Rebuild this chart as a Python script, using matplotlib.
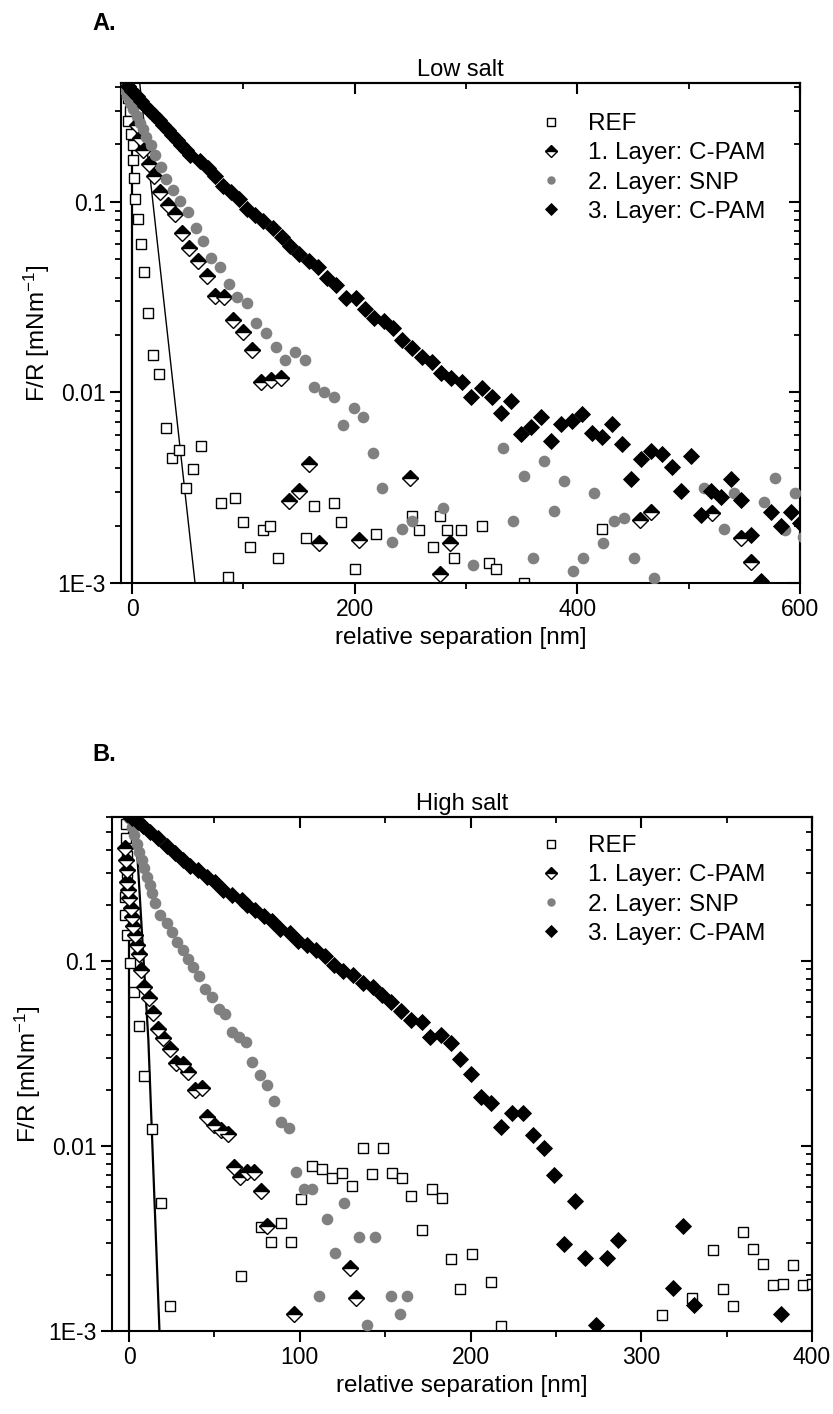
import numpy as np
import matplotlib
matplotlib.use('Agg')
import matplotlib.pyplot as plt
from matplotlib.ticker import MultipleLocator, LogLocator, FixedFormatter, FixedLocator, NullFormatter

plt.rcParams['font.family'] = ['Liberation Sans', 'DejaVu Sans']
plt.rcParams['mathtext.default'] = 'regular'

# ---------------- Panel A: low salt ----------------
a_ref_x = [-4, -2, -3.3, -0.9, 0.6, 1.2, 1.5, 3.0, 5.1, 7.8, 11.1, 14.6, 19.1, 24.5, 30.2, 36.2,
           42.4, 48.4, 55, 61.6, 80.1, 86.4, 92.7, 99.3, 105.6, 117.8, 124, 131, 156, 163,
           181.5, 187.7, 200.6, 219.4, 251.4, 257.7, 270.2, 276.8, 282.8, 289.4, 295.7,
           314.2, 321, 327, 352, 422.4]
a_ref_y = [0.35, 0.30, 0.264, 0.227, 0.198, 0.165, 0.133, 0.103, 0.081, 0.060, 0.043, 0.026,
           0.0157, 0.0125, 0.0065, 0.0045, 0.0050, 0.00316, 0.00396, 0.00526, 0.00262,
           0.00108, 0.0028, 0.00209, 0.00154, 0.0019, 0.00199, 0.00135, 0.00172, 0.00253,
           0.00263, 0.00209, 0.00118, 0.00181, 0.00225, 0.0019, 0.00154, 0.00225, 0.0019,
           0.00135, 0.0019, 0.00199, 0.00127, 0.00118, 0.001, 0.00193]

a_l1_x = [-4, -1, 1.2, 4.2, 7, 9.6, 15.2, 20, 25.1, 32, 38.6, 45.1, 51.4, 58.9, 67, 74.4,
          82.8, 90.9, 99.3, 107.4, 115.7, 124.4, 133.6, 140.8, 149.8, 159, 167.7, 204.2,
          249.3, 276.2, 285.2, 456.5, 466, 520.8, 547, 556]
a_l1_y = [0.40, 0.35, 0.33, 0.254, 0.215, 0.187, 0.158, 0.136, 0.113, 0.0957, 0.0865, 0.069,
          0.0571, 0.0487, 0.041, 0.0321, 0.0318, 0.024, 0.0207, 0.0166, 0.0114, 0.0116,
          0.0119, 0.00269, 0.00304, 0.00421, 0.00162, 0.00168, 0.00355, 0.00111, 0.00162,
          0.00214, 0.00237, 0.00232, 0.00172, 0.00129]

a_l2_x = [-8, -5, -2, 1, 4, 7, 10, 12.8, 17.3, 20.9, 25.7, 30.8, 36.8, 42.8, 50.2, 57.1, 64,
          70.9, 78.9, 87.3, 94.5, 103.1, 110.9, 119.9, 128.9, 137.2, 146.2, 155.2, 163.5,
          172.5, 181.4, 189.5, 199.1, 207.5, 216.4, 224.8, 233.8, 242.8, 251.7, 279.2,
          306.1, 333, 342, 351.6, 359.9, 369.8, 378.7, 387.7, 396.4, 405.4, 414.6, 423.3,
          432.6, 441.5, 450.5, 468.4, 513.9, 531.8, 540.8, 567.7, 577.3, 586.5, 595.2, 603]
a_l2_y = [0.389, 0.359, 0.331, 0.305, 0.282, 0.26, 0.24, 0.220, 0.199, 0.177, 0.152, 0.132,
          0.116, 0.101, 0.0885, 0.0733, 0.062, 0.051, 0.0457, 0.0372, 0.0316, 0.0294,
          0.0231, 0.0205, 0.0174, 0.0148, 0.0163, 0.0148, 0.0107, 0.0101, 0.00944, 0.00675,
          0.00832, 0.00746, 0.0048, 0.00316, 0.00164, 0.00192, 0.00212, 0.00248, 0.00125,
          0.00509, 0.00212, 0.00365, 0.00135, 0.00439, 0.0024, 0.00343, 0.00116, 0.00135,
          0.00296, 0.00163, 0.00212, 0.0022, 0.00135, 0.00106, 0.00316, 0.00192, 0.00298,
          0.00267, 0.00355, 0.0019, 0.00298, 0.00174]

a_l3_x = [-4, 0, 4, 8, 12, 16, 20, 24, 28, 32, 36, 40, 44, 48, 52, 61, 68.4, 74.4, 81.9, 88.8,
          96.2, 102.8, 110.3, 117.8, 126.2, 134.3, 141.7, 150, 159, 167.1, 175.2, 183, 191.9,
          200.9, 209, 217.3, 226, 234.4, 242.8, 251.4, 260.4, 269.3, 277.8, 286.7, 296.6,
          304.7, 314.2, 323.2, 331.6, 340.5, 349.5, 358.5, 367.4, 376.4, 385.4, 394.9,
          403.9, 412.8, 421.8, 430.8, 439.7, 448.2, 457.1, 466.1, 475.6, 484.6, 493.5,
          502.5, 511.5, 520.4, 529.4, 538.4, 547.4, 556.3, 565.3, 574.3, 583.2, 592.2, 600]
a_l3_y = [0.405, 0.381, 0.360, 0.339, 0.319, 0.301, 0.284, 0.267, 0.252, 0.238, 0.224, 0.211,
          0.199, 0.188, 0.177, 0.163, 0.150, 0.136, 0.121, 0.112, 0.103, 0.0916, 0.0855,
          0.0789, 0.0728, 0.065, 0.0587, 0.0531, 0.049, 0.0457, 0.0397, 0.0364, 0.0312,
          0.0312, 0.0274, 0.0245, 0.0238, 0.0217, 0.0189, 0.0171, 0.0154, 0.0145, 0.0127,
          0.0119, 0.0114, 0.00944, 0.0105, 0.00944, 0.00783, 0.00906, 0.00606, 0.00656,
          0.00741, 0.00558, 0.00683, 0.00711, 0.00771, 0.00615, 0.00582, 0.00683, 0.00537,
          0.00352, 0.00446, 0.00495, 0.00475, 0.00408, 0.00304, 0.00466, 0.00228, 0.00304,
          0.00284, 0.00352, 0.00273, 0.00179, 0.00102, 0.00237, 0.00198, 0.00237, 0.00207]

a_zero_x = [0, 0]
a_zero_y = [1e-3, 0.42]
a_fit_x = [6.8, 56.5]
a_fit_y = [0.42, 0.001]

# ---------------- Panel B: high salt ----------------
b_ref_x = [-2, -1.8, -1.5, -1.0, -2.3, -2.3, -1.3, 0.6, 2.9, 6.0, 9.0, 13.7, 18.6, 24.0, 65.5,
           77.2, 83.1, 89, 94.8, 100.9, 107.1, 113, 118.9, 124.7, 130.6, 137.1, 142.3, 148.6,
           154.1, 159.9, 165.4, 171.3, 177.5, 183.4, 188.7, 193.7, 200.6, 212.1, 218, 312,
           329.6, 341.8, 347.6, 353.5, 359.4, 365.2, 371.1, 376.9, 382.8, 388.7, 394.5, 400]
b_ref_y = [0.55, 0.46, 0.37, 0.30, 0.223, 0.177, 0.138, 0.0973, 0.0677, 0.0447, 0.024, 0.0124,
           0.0049, 0.00137, 0.00198, 0.00366, 0.00304, 0.00382, 0.00304, 0.00517, 0.0078,
           0.00748, 0.00674, 0.00718, 0.0061, 0.0098, 0.00706, 0.0098, 0.00718, 0.00674,
           0.00537, 0.00352, 0.00583, 0.00521, 0.00244, 0.00168, 0.0026, 0.00183, 0.00106,
           0.00122, 0.00151, 0.00274, 0.00169, 0.00137, 0.00343, 0.00279, 0.00229, 0.00177,
           0.0018, 0.00227, 0.00177, 0.0018]

b_l1_x = [-2.3, -1.8, -1.3, -1.0, -0.4, 0.2, 1.0, 1.6, 2.2, 3.5, 4.9, 6.0, 6.9, 9.0, 11.7,
          14.3, 17.2, 20.1, 24.0, 27.6, 31.5, 34.8, 38.7, 42.6, 45.6, 49.9, 53.8, 57.7, 61.2,
          65.1, 69, 73.3, 77.2, 80.8, 96.8, 129.2, 133.1]
b_l1_y = [0.406, 0.351, 0.31, 0.268, 0.242, 0.218, 0.193, 0.173, 0.155, 0.138, 0.122, 0.109,
          0.0893, 0.0726, 0.0634, 0.0521, 0.0428, 0.0382, 0.0333, 0.028, 0.0277, 0.0252,
          0.0201, 0.0205, 0.0144, 0.013, 0.0122, 0.0116, 0.00768, 0.00678, 0.00726, 0.0072,
          0.00573, 0.0037, 0.00124, 0.00218, 0.00151]

b_l2_x = [0, 1.5, 3, 4.5, 6, 7.5, 9, 10.5, 12, 13.5, 15.2, 18.2, 22.1, 25, 28, 31.5, 34.8,
          37.7, 41.1, 44.6, 48.5, 52.4, 56.3, 60.2, 64.1, 68.4, 72, 76.4, 80.8, 84.6, 89.1,
          93.8, 97.8, 102.2, 107.1, 111, 116, 120.8, 125.7, 134.9, 139.4, 144.3, 153.7,
          158.4, 162.9]
b_l2_y = [0.59, 0.53, 0.48, 0.43, 0.39, 0.35, 0.32, 0.286, 0.258, 0.232, 0.205, 0.177, 0.160,
          0.144, 0.127, 0.114, 0.1026, 0.093, 0.083, 0.0706, 0.0637, 0.0548, 0.0515, 0.0415,
          0.039, 0.0366, 0.0286, 0.0242, 0.0214, 0.0176, 0.0134, 0.0125, 0.00726, 0.00587,
          0.00587, 0.00155, 0.00402, 0.00263, 0.00494, 0.00323, 0.00108, 0.00323, 0.00155,
          0.00124, 0.00155]

b_l3_x = [-1, 2, 5, 8, 12.3, 17.2, 22.1, 27, 31.8, 35.8, 40.6, 45.6, 50.4, 55.3, 60.2, 66.1,
          69, 73.9, 78.8, 83.7, 88.6, 94, 98.9, 104.2, 109.7, 115, 120.2, 125.3, 131.2,
          136.8, 142.7, 148.2, 153.7, 159.3, 165.2, 171.3, 176.5, 182.8, 188.7, 194.1,
          200.4, 205.9, 211.7, 217.6, 224.5, 230.9, 236.8, 243, 249.1, 254.7, 261, 267.1,
          273.3, 280.2, 286.6, 318.3, 324.7, 331, 381.8]
b_l3_y = [0.62, 0.589, 0.562, 0.537, 0.500, 0.460, 0.419, 0.382, 0.351, 0.327, 0.310, 0.283,
          0.268, 0.242, 0.228, 0.213, 0.200, 0.188, 0.175, 0.164, 0.148, 0.142, 0.129, 0.122,
          0.115, 0.107, 0.0955, 0.0879, 0.0843, 0.076, 0.0723, 0.0653, 0.060, 0.0535,
          0.0477, 0.047, 0.0388, 0.040, 0.0361, 0.0295, 0.0245, 0.0184, 0.017, 0.0126,
          0.0151, 0.0151, 0.0115, 0.00973, 0.00697, 0.00295, 0.00506, 0.00247, 0.00108,
          0.00247, 0.0031, 0.0017, 0.00371, 0.00138, 0.00123]

b_zero_x = [0, 0]
b_zero_y = [1e-3, 0.6]
b_fit_x = [3.5, 11.3, 17.8]
b_fit_y = [0.6, 0.0374, 0.001]

labels = ['REF', '1. Layer: C-PAM', '2. Layer: SNP', '3. Layer: C-PAM']

fig = plt.figure(figsize=(8.33, 14.14), dpi=100)
W, H = 833.0, 1414.0


def make_axes(l, r, t, b):
    return fig.add_axes([l / W, 1 - b / H, (r - l) / W, (b - t) / H])


def draw_panel(ax, ref, l1, l2, l3, zero, fit, fitlw):
    ax.plot(zero[0], zero[1], color='black', lw=1.6, zorder=1)
    ax.plot(fit[0], fit[1], color='black', lw=fitlw, zorder=1)
    ax.plot(ref[0], ref[1], 's', ms=7.5, mfc='white', mec='black', mew=1.0, ls='none',
            label=labels[0], zorder=2)
    ax.plot(l1[0], l1[1], 'D', ms=8.2, fillstyle='top', mfc='black', mfcalt='white',
            mec='black', mew=1.0, ls='none', label=labels[1], zorder=3)
    ax.plot(l2[0], l2[1], 'o', ms=8.4, color='#808080', mec='#808080', mew=0, ls='none',
            label=labels[2], zorder=3)
    ax.plot(l3[0], l3[1], 'D', ms=8.6, color='black', mec='black', mew=0.6, ls='none',
            label=labels[3], zorder=4)
    ax.set_yscale('log')
    for s in ax.spines.values():
        s.set_linewidth(1.5)


def style_axes(ax, xmaj, xmin_, xlabels, xlim, ylim):
    ax.set_xlim(*xlim)
    ax.set_ylim(*ylim)
    ax.xaxis.set_major_locator(FixedLocator(xmaj))
    ax.xaxis.set_major_formatter(FixedFormatter(xlabels))
    ax.xaxis.set_minor_locator(MultipleLocator(xmin_))
    ax.yaxis.set_major_locator(FixedLocator([1e-3, 1e-2, 1e-1]))
    ax.yaxis.set_major_formatter(FixedFormatter(['1E-3', '0.01', '0.1']))
    ax.yaxis.set_minor_locator(LogLocator(base=10, subs=np.arange(2, 10)))
    ax.yaxis.set_minor_formatter(NullFormatter())
    ax.tick_params(which='major', direction='out', length=8, width=1.5, labelsize=16.5, pad=3)
    ax.tick_params(which='minor', direction='out', length=4.5, width=1.3)
    # mirrored ticks on top / right point inward
    top = ax.secondary_xaxis('top')
    top.xaxis.set_major_locator(FixedLocator(xmaj))
    top.xaxis.set_minor_locator(MultipleLocator(xmin_))
    top.tick_params(which='major', direction='in', length=8, width=1.5, labeltop=False)
    top.tick_params(which='minor', direction='in', length=4.5, width=1.3)
    top.spines['top'].set_linewidth(1.5)
    right = ax.secondary_yaxis('right')
    right.set_yscale('log')
    right.yaxis.set_major_locator(FixedLocator([1e-3, 1e-2, 1e-1]))
    right.yaxis.set_minor_locator(LogLocator(base=10, subs=np.arange(2, 10)))
    right.yaxis.set_minor_formatter(NullFormatter())
    right.tick_params(which='major', direction='in', length=8, width=1.5, labelright=False)
    right.tick_params(which='minor', direction='in', length=4.5, width=1.3)
    right.spines['right'].set_linewidth(1.5)
    ax.set_xlabel('relative separation [nm]', fontsize=17.5, labelpad=4)
    ax.set_ylabel(r'F/R [mNm$^{-1}$]', fontsize=17.5, labelpad=4)


leg_kw = dict(loc='upper left', frameon=False, fontsize=17.5, markerscale=0.72,
              handlelength=1.0, handletextpad=1.02, labelspacing=0.3, borderpad=0,
              borderaxespad=0)

axA = make_axes(121, 800, 83, 583)
draw_panel(axA, (a_ref_x, a_ref_y), (a_l1_x, a_l1_y), (a_l2_x, a_l2_y), (a_l3_x, a_l3_y),
           (a_zero_x, a_zero_y), (a_fit_x, a_fit_y), 1.0)
style_axes(axA, [0, 200, 400, 600], 100, ['0', '200', '400', '600'], (-10, 600), (1e-3, 0.42))
axA.set_title('Low salt', fontsize=17, pad=5)
axA.legend(bbox_to_anchor=(539 / W, 1 - 113 / H), bbox_transform=fig.transFigure, **leg_kw)

axB = make_axes(112, 812, 817, 1331)
draw_panel(axB, (b_ref_x, b_ref_y), (b_l1_x, b_l1_y), (b_l2_x, b_l2_y), (b_l3_x, b_l3_y),
           (b_zero_x, b_zero_y), (b_fit_x, b_fit_y), 1.6)
style_axes(axB, [0, 100, 200, 300, 400], 50, ['0', '100', '200', '300', '400'], (-10, 400),
           (1e-3, 0.6))
axB.set_title('High salt', fontsize=17, pad=5)
axB.legend(bbox_to_anchor=(539 / W, 1 - 835 / H), bbox_transform=fig.transFigure, **leg_kw)

fig.text(92 / W, 1 - 23 / H, 'A.', fontsize=17, fontweight='bold', va='center', ha='left')
fig.text(92 / W, 1 - 755 / H, 'B.', fontsize=17, fontweight='bold', va='center', ha='left')

fig.savefig('out.png', dpi=100)
